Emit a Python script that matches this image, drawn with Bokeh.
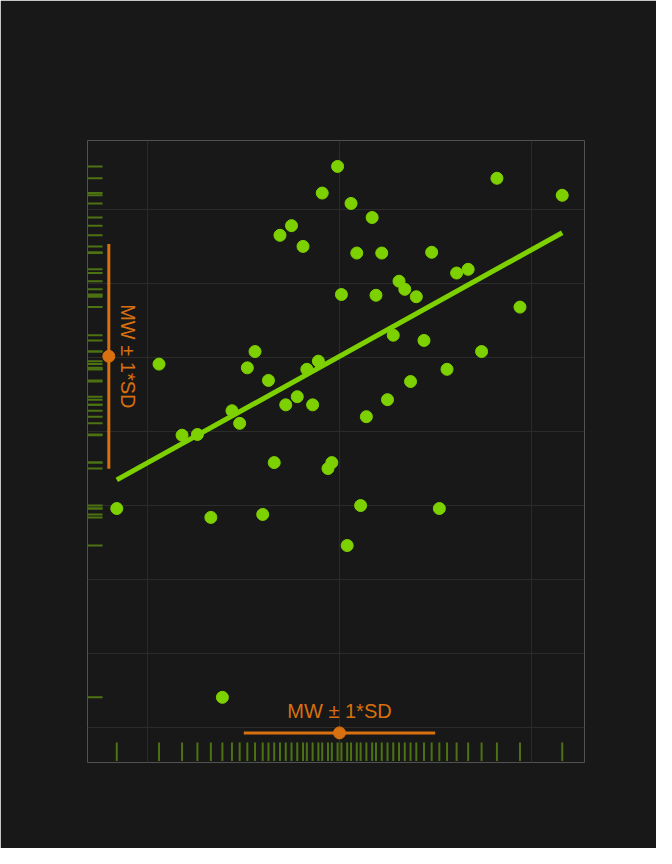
from bokeh.plotting import figure
from bokeh.models import Range1d, Label
from bokeh.embed import file_html
from bokeh.resources import INLINE
import numpy as np

# values (arbitrary units)
x_vals = [0.84, 1.06, 1.18, 1.26, 1.33, 1.39, 1.44, 1.48, 1.52, 1.56, 1.60, 1.63, 1.66, 1.69,
          1.72, 1.75, 1.78, 1.81, 1.83, 1.86, 1.89, 1.91, 1.94, 1.96, 1.99, 2.01, 2.04, 2.06,
          2.09, 2.11, 2.14, 2.17, 2.19, 2.22, 2.25, 2.28, 2.31, 2.34, 2.37, 2.40, 2.44, 2.48,
          2.52, 2.56, 2.61, 2.67, 2.74, 2.82, 2.94, 3.16]
y_vals = [2.96, 4.91, 3.95, 3.96, 2.84, 0.41, 4.28, 4.11, 4.86, 5.08, 2.88, 4.69, 3.58, 6.65,
          4.36, 6.78, 4.47, 6.50, 4.84, 4.36, 4.95, 7.22, 3.50, 3.58, 7.58, 5.85, 2.46, 7.08,
          6.41, 3.00, 4.20, 6.89, 5.84, 6.41, 4.43, 5.30, 6.03, 5.92, 4.675, 5.82, 5.23, 6.42,
          2.96, 4.84, 6.14, 6.19, 5.08, 7.42, 5.68, 7.19]

green = "#7ed100"
orange = "#d9700f"
rug = "#4c7212"

p = figure(width=656, height=848, output_backend="svg", toolbar_location=None,
           x_axis_location=None, y_axis_location=None,
           x_range=Range1d(0.6875, 3.276), y_range=Range1d(-0.47, 7.93),
           min_border_left=87, min_border_right=72, min_border_top=140, min_border_bottom=86)
p.background_fill_color = "#181818"
p.border_fill_color = "#181818"
p.outline_line_color = None
p.xgrid.ticker = [1, 2, 3]
p.ygrid.ticker = list(range(0, 8))
p.xgrid.grid_line_color = "#2b2b2b"
p.ygrid.grid_line_color = "#2b2b2b"

x = np.array(x_vals)
y = np.array(y_vals)

# rugs
p.segment(x0=0.6875, x1=0.766, y0=y, y1=y, line_color=rug, line_width=2)
p.segment(x0=x, x1=x, y0=-0.20, y1=-0.45, line_color=rug, line_width=2)

# regression line
k, b = np.polyfit(x, y, 1)
xs = np.array([x.min(), x.max()])
p.line(xs, k * xs + b, line_color=green, line_width=5)

p.scatter(x, y, size=12, color=green)

# mean +- SD
mx, sx = x.mean(), x.std(ddof=1)
my, sy = y.mean(), y.std(ddof=1)
xb = 0.7985
p.line([xb, xb], [my - sy, my + sy], line_color=orange, line_width=3)
p.scatter([xb], [my], size=12, color=orange)
yb = -0.07
p.line([mx - sx, mx + sx], [yb, yb], line_color=orange, line_width=3)
p.scatter([mx], [yb], size=12, color=orange)

p.add_layout(Label(x=mx, y=0.08, text="MW ± 1*SD", text_color=orange, text_font_size="20px",
                   text_align="center", text_baseline="bottom", text_font="Liberation Sans"))
p.add_layout(Label(x=0.84, y=my, x_offset=11, text="MW ± 1*SD", text_color=orange,
                   text_font_size="20px", text_align="center", text_baseline="middle",
                   angle=-np.pi / 2, text_font="Liberation Sans"))

open("out.html", "w").write(file_html(p, INLINE))
